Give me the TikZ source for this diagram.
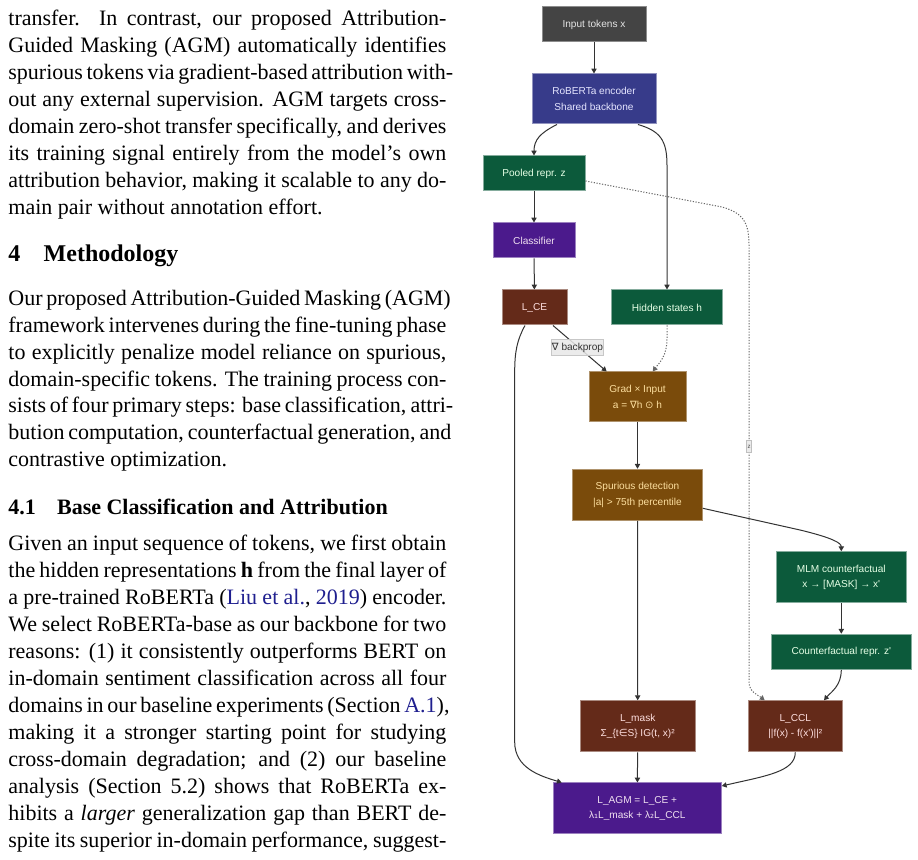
\documentclass[tikz,border=0pt]{standalone}
\usepackage{fontspec}
\setmainfont{Liberation Serif}
\newfontfamily\diagfont{Liberation Sans}
\newfontfamily\symfont{DejaVu Sans}
\usetikzlibrary{arrows.meta,calc}

\definecolor{citeblue}{HTML}{1F1F8F}
\definecolor{inpgray}{HTML}{444444}
\definecolor{encblue}{HTML}{373B8A}
\definecolor{repgreen}{HTML}{0C5A3B}
\definecolor{clspurple}{HTML}{4B1A8C}
\definecolor{lossred}{HTML}{642A19}
\definecolor{attgold}{HTML}{7A4B0B}
\definecolor{edgegray}{HTML}{333333}

\newcommand{\jline}[1]{\makebox[219pt][s]{#1}}
\newcommand{\sym}[1]{{\symfont #1}}

\begin{document}
\begin{tikzpicture}[x=0.5pt,y=-0.5pt,
  txt/.style={anchor=base west,inner sep=0pt,font=\fontsize{11pt}{13.5pt}\selectfont},
  box/.style={draw,line width=0.5pt,inner sep=0pt,align=center,
    font=\diagfont\fontsize{5.05pt}{7.7pt}\selectfont},
  edge/.style={draw=edgegray,line width=0.5pt,-{Triangle[length=2.4pt,width=2.6pt]}},
  dotedge/.style={edge,draw=black!60,dash pattern=on 0.6pt off 0.8pt}]

  \useasboundingbox[fill=white] (0,0) rectangle (918,860);

  % left column of the page
  \node[txt] (p1a) at (8,26)    {\jline{transfer. In contrast, our proposed Attribution-}};
  \node[txt] (p1b) at (8,52.9)  {\jline{Guided Masking (AGM) automatically identifies}};
  \node[txt] (p1c) at (8,79.8)  {\jline{spurious tokens via gradient-based attribution with-}};
  \node[txt] (p1d) at (8,106.7) {\jline{out any external supervision. AGM targets cross-}};
  \node[txt] (p1e) at (8,133.6) {\jline{domain zero-shot transfer specifically, and derives}};
  \node[txt] (p1f) at (8,160.5) {\jline{its training signal entirely from the model’s own}};
  \node[txt] (p1g) at (8,187.4) {\jline{attribution behavior, making it scalable to any do-}};
  \node[txt] (p1h) at (8,214.3) {main pair without annotation effort.};

  \node[txt,font=\fontsize{12pt}{14pt}\selectfont\bfseries] (sec) at (8,262) {4};
  \node[txt,font=\fontsize{12pt}{14pt}\selectfont\bfseries] (sectitle) at (43.3,262) {Methodology};

  \node[txt] (p2a) at (8,306)   {\jline{Our proposed Attribution-Guided Masking (AGM)}};
  \node[txt] (p2b) at (8,332.7) {\jline{framework intervenes during the fine-tuning phase}};
  \node[txt] (p2c) at (8,359.4) {\jline{to explicitly penalize model reliance on spurious,}};
  \node[txt] (p2d) at (8,386.1) {\jline{domain-specific tokens. The training process con-}};
  \node[txt] (p2e) at (8,412.8) {\jline{sists of four primary steps: base classification, attri-}};
  \node[txt] (p2f) at (8,439.5) {\jline{bution computation, counterfactual generation, and}};
  \node[txt] (p2g) at (8,466.2) {contrastive optimization.};

  \node[txt,font=\fontsize{11pt}{13.5pt}\selectfont\bfseries] (subsec) at (8,515) {4.1};
  \node[txt,font=\fontsize{11pt}{13.5pt}\selectfont\bfseries] (subsectitle) at (56.7,515) {Base Classification and Attribution};

  \node[txt] (p3a) at (8,551) {\jline{Given an input sequence of tokens, we first obtain}};
  \node[txt] (p3b) at (8,578) {\jline{the hidden representations \textbf{h} from the final layer of}};
  \node[txt] (p3c) at (8,605) {\jline{a pre-trained RoBERTa (\textcolor{citeblue}{Liu et al.}, \textcolor{citeblue}{2019}) encoder.}};
  \node[txt] (p3d) at (8,632) {\jline{We select RoBERTa-base as our backbone for two}};
  \node[txt] (p3e) at (8,659) {\jline{reasons: (1) it consistently outperforms BERT on}};
  \node[txt] (p3f) at (8,686) {\jline{in-domain sentiment classification across all four}};
  \node[txt] (p3g) at (8,713) {\jline{domains in our baseline experiments (Section \textcolor{citeblue}{A.1}),}};
  \node[txt] (p3h) at (8,740) {\jline{making it a stronger starting point for studying}};
  \node[txt] (p3i) at (8,767) {\jline{cross-domain degradation; and (2) our baseline}};
  \node[txt] (p3j) at (8,794) {\jline{analysis (Section 5.2) shows that RoBERTa ex-}};
  \node[txt] (p3k) at (8,821) {\jline{hibits a \textit{larger} generalization gap than BERT de-}};
  \node[txt] (p3l) at (8,848) {\jline{spite its superior in-domain performance, suggest-}};

  % flow chart
  \node[box,fill=inpgray,draw=black!45,text=black!10,minimum width=52pt,minimum height=17.5pt] (inp) at (594,24.5) {Input tokens x};
  \node[box,fill=encblue,draw=encblue!55!white,text=white!90!blue,minimum width=62pt,minimum height=25pt] (enc) at (594,99) {RoBERTa encoder\\Shared backbone};
  \node[box,fill=repgreen,draw=repgreen!50!white,text=white!90!green,minimum width=51pt,minimum height=17.5pt] (pool) at (534,173.5) {Pooled repr. z};
  \node[box,fill=clspurple,draw=clspurple!55!white,text=white!88!violet,minimum width=41pt,minimum height=17.5pt] (cls) at (534,240.5) {Classifier};
  \node[box,fill=lossred,draw=lossred!55!white,text=white!88!red,minimum width=32.5pt,minimum height=17.5pt] (lce) at (534.5,307.5) {L\_CE};
  \node[box,fill=repgreen,draw=repgreen!50!white,text=white!90!green,minimum width=55.5pt,minimum height=17.5pt] (hid) at (667,307.5) {Hidden states h};
  \node[box,fill=attgold,draw=attgold!60!white,text=yellow!35!orange!35!white,minimum width=48.5pt,minimum height=25pt] (grad) at (637.5,397) {Grad × Input\\a = \sym{∇}h \sym{⊙} h};
  \node[box,fill=attgold,draw=attgold!60!white,text=yellow!35!orange!35!white,minimum width=64.8pt,minimum height=25.5pt] (spur) at (637.5,494.8) {Spurious detection\\|a| > 75th percentile};
  \node[box,fill=repgreen,draw=repgreen!50!white,text=white!90!green,minimum width=65pt,minimum height=25.5pt] (mlm) at (841.3,577.3) {MLM counterfactual\\x → [MASK] → x'};
  \node[box,fill=repgreen,draw=repgreen!50!white,text=white!90!green,minimum width=70pt,minimum height=17.5pt] (cfz) at (841.3,651.8) {Counterfactual repr. z'};
  \node[box,fill=lossred,draw=lossred!55!white,text=white!88!red,minimum width=57.5pt,minimum height=25.5pt] (lmask) at (637.7,726.3) {L\_mask\\Σ\_\{t\sym{∈}S\} IG(t, x)²};
  \node[box,fill=lossred,draw=lossred!55!white,text=white!88!red,minimum width=47pt,minimum height=25.5pt] (lccl) at (795.3,726.3) {L\_CCL\\||f(x) - f(x')||²};
  \node[box,fill=clspurple,draw=clspurple!55!white,text=white!88!violet,minimum width=84pt,minimum height=25.5pt] (lagm) at (637.3,808.5) {L\_AGM = L\_CE +\\λ\sym{₁}L\_mask + λ\sym{₂}L\_CCL};

  \draw[edge] (inp) -- (enc);
  \draw[edge] ($(enc.south)+(-37,0)$) .. controls (540,133) and (534,140) .. (pool.north);
  \draw[edge] ($(enc.south)+(44,0)$) .. controls (660,131) and (667,140) .. (667,165) -- (hid.north);
  \draw[edge] (pool) -- (cls);
  \draw[edge] (cls) -- (lce);
  \draw[edge] ($(lce.south)+(18.5,0)$) -- ($(grad.north)+(-30.8,0)$);
  \node[box,fill=black!9,fill opacity=0.85,text opacity=1,draw=black!22,text=black!80,minimum width=26pt,minimum height=8pt] (bp) at (577.5,348) {\sym{∇} backprop};
  \draw[dotedge] (hid.south) -- (667,338) .. controls (667,356) and (660,362) .. ($(grad.north)+(15.2,0)$);
  \draw[edge] (grad) -- (spur);
  \draw[edge] ($(spur.east)+(0,13.5)$) -- (800,530) .. controls (833,538) and (841.3,543) .. (mlm.north);
  \draw[edge] (mlm) -- (cfz);
  \draw[edge] (cfz.south) .. controls (841.3,686) and (831,692) .. ($(lccl.north)+(28.7,0)$);
  \draw[dotedge] ($(pool.east)+(0,7.5)$) -- (722,207) .. controls (743,213) and (749,222) .. (749,245)
    -- (749,682) .. controls (749,692) and (758,695) .. ($(lccl.north)+(-30.6,0)$);
  \node[box,fill=black!8,draw=black!25,text=black!70,font=\diagfont\fontsize{3pt}{3pt}\selectfont,
    minimum width=2.6pt,minimum height=6pt] (zlab) at (749,446.7) {z};
  \draw[edge] (spur) -- (lmask);
  \draw[edge] ($(lce.south)+(-9.5,0)$) .. controls (517,340) and (514.7,352) .. (514.7,372)
    -- (514.7,742) .. controls (514.7,768) and (540,776) .. ($(lagm.north)+(-75.6,0)$);
  \draw[edge] (lmask) -- (lagm);
  \draw[edge] (lccl.south) .. controls (795.3,772) and (765,776) .. ($(lagm.east)+(0,-22.5)$);

\end{tikzpicture}
\end{document}
